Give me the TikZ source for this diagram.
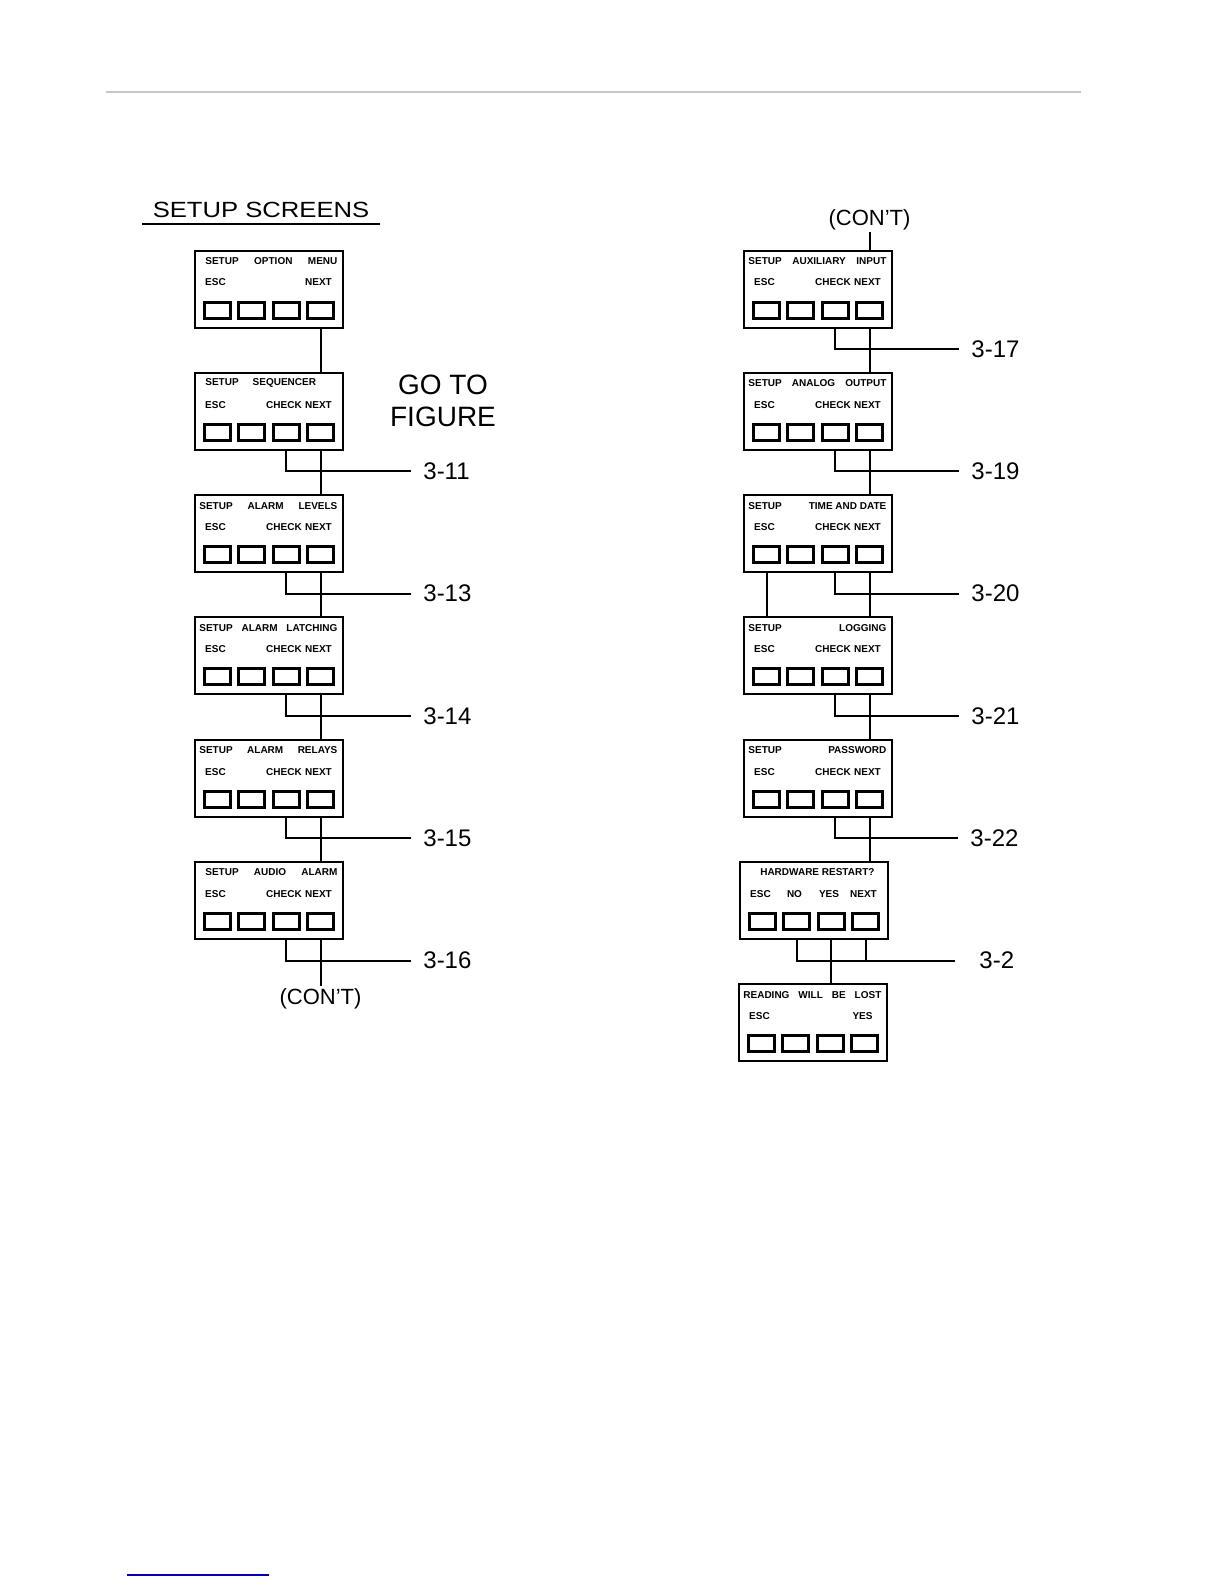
\documentclass[tikz,border=0pt]{standalone}
\usepackage{fontspec}
\setmainfont{Liberation Sans}
\usepackage{graphicx}
\usetikzlibrary{calc}

\tikzset{
    screen/.style={draw, line width=1pt, anchor=north west, minimum width=74pt,
                   minimum height=38.5pt, inner sep=0pt},
    key/.style={draw, line width=1.5pt, minimum width=13pt, minimum height=8pt, inner sep=0pt},
    lcdtext/.style={font=\fontsize{5}{6}\selectfont\bfseries, inner sep=0pt},
    conn/.style={line width=1pt},
    figref/.style={font=\fontsize{12}{14}\selectfont, anchor=west, inner xsep=6pt, inner ysep=0pt},
    cont/.style={font=\fontsize{11}{13}\selectfont, inner sep=1pt},
}

% one display screen: name, top-left corner, top line, four key labels
\newcommand{\lcdscreen}[7]{%
    \node[screen] (#1) at (#2) {};
    \node[lcdtext, anchor=west] (#1-top) at ($(#1.north west)+(5,11.5)$) {\hbox to 69pt{#3}};
    \foreach \dx [count=\i] in {23.5,57.5,92,126.5}
        \node[key] (#1-\i) at ($(#1.north west)+(\dx,60.5)$) {};
    \node[lcdtext] (#1-t1) at ($(#1-1)+(-2,-27.5)$) {#4};
    \node[lcdtext] (#1-t2) at ($(#1-2)+(-2,-27.5)$) {#5};
    \node[lcdtext] (#1-t3) at ($(#1-3)+(-2,-27.5)$) {#6};
    \node[lcdtext] (#1-t4) at ($(#1-4)+(-2,-27.5)$) {#7};
}

\begin{document}
\begin{tikzpicture}[x=0.5pt, y=-0.5pt]
    \useasboundingbox (0,0) rectangle (1224,1584);
    \draw[gray!45, line width=0.6pt] (106,92) -- (1081,92);
    \draw[blue!70!black, line width=0.6pt] (127,1575) -- (269,1575);

    % title
    \node[font=\fontsize{11}{13}\selectfont, anchor=south, inner xsep=5pt, inner ysep=3pt]
        (title) at (261,224) {\scalebox{1.165}[1]{SETUP SCREENS}};
    \draw[line width=1pt] (title.south west) -- (title.south east);
    \node[font=\fontsize{14}{16}\selectfont, align=center, inner sep=0pt] (goto) at (443,401) {GO TO\\FIGURE};

    % left column
    \lcdscreen{s1}{194,249.5}{\hspace{3pt}SETUP\hfill OPTION\hfill MENU}{ESC}{}{}{NEXT}
    \lcdscreen{s2}{194,371.8}{\hspace{3pt}SETUP\hspace{7pt}SEQUENCER\hfill}{ESC}{}{CHECK}{NEXT}
    \lcdscreen{s3}{194,494.1}{SETUP\hfill ALARM\hfill LEVELS}{ESC}{}{CHECK}{NEXT}
    \lcdscreen{s4}{194,616.4}{SETUP\hfill ALARM\hfill LATCHING}{ESC}{}{CHECK}{NEXT}
    \lcdscreen{s5}{194,738.7}{SETUP\hfill ALARM\hfill RELAYS}{ESC}{}{CHECK}{NEXT}
    \lcdscreen{s6}{194,861}{\hspace{3pt}SETUP\hfill AUDIO\hfill ALARM}{ESC}{}{CHECK}{NEXT}

    \node[figref] (f311) at (411,471.3) {3-11};
    \node[figref] (f313) at (411,593.6) {3-13};
    \node[figref] (f314) at (411,715.9) {3-14};
    \node[figref] (f315) at (411,838.2) {3-15};
    \node[figref] (f316) at (411,960.5) {3-16};
    \node[cont, anchor=north] (cont1) at (320.5,986) {(CON'T)};

    \draw[conn] (s1.south -| s1-4) -- (s2.north -| s1-4);
    \draw[conn] (s2.south -| s2-3) |- (f311.west);
    \draw[conn] (s2.south -| s2-4) -- (s3.north -| s2-4);
    \draw[conn] (s3.south -| s3-3) |- (f313.west);
    \draw[conn] (s3.south -| s3-4) -- (s4.north -| s3-4);
    \draw[conn] (s4.south -| s4-3) |- (f314.west);
    \draw[conn] (s4.south -| s4-4) -- (s5.north -| s4-4);
    \draw[conn] (s5.south -| s5-3) |- (f315.west);
    \draw[conn] (s5.south -| s5-4) -- (s6.north -| s5-4);
    \draw[conn] (s6.south -| s6-3) |- (f316.west);
    \draw[conn] (s6.south -| s6-4) -- (cont1.north -| s6-4);

    % right column
    \lcdscreen{r1}{743,249.5}{SETUP\hfill AUXILIARY\hfill INPUT}{ESC}{}{CHECK}{NEXT}
    \lcdscreen{r2}{743,371.8}{SETUP\hfill ANALOG\hfill OUTPUT}{ESC}{}{CHECK}{NEXT}
    \lcdscreen{r3}{743,494.1}{SETUP\hfill TIME AND DATE}{ESC}{}{CHECK}{NEXT}
    \lcdscreen{r4}{743,616.4}{SETUP\hfill LOGGING}{ESC}{}{CHECK}{NEXT}
    \lcdscreen{r5}{743,738.7}{SETUP\hfill PASSWORD}{ESC}{}{CHECK}{NEXT}
    \lcdscreen{hw}{739,861}{\hfill\hspace{4pt}HARDWARE RESTART?\hfill}{ESC}{NO}{YES}{NEXT}
    \lcdscreen{rd}{738,983.3}{READING\hfill WILL\hfill BE\hfill LOST}{ESC}{}{}{YES}

    \node[cont, anchor=south] (cont2) at (869.5,232) {(CON'T)};
    \node[figref] (f317) at (959,349) {3-17};
    \node[figref] (f319) at (959,471.3) {3-19};
    \node[figref] (f320) at (959,593.6) {3-20};
    \node[figref] (f321) at (959,715.9) {3-21};
    \node[figref] (f322) at (958,838.2) {3-22};
    \node[figref, inner xsep=12pt] (f32) at (955,960.5) {3-2};

    \draw[conn] (cont2.south -| r1-4) -- (r1.north -| r1-4);
    \draw[conn] (r1.south -| r1-3) |- (f317.west);
    \draw[conn] (r1.south -| r1-4) -- (r2.north -| r1-4);
    \draw[conn] (r2.south -| r2-3) |- (f319.west);
    \draw[conn] (r2.south -| r2-4) -- (r3.north -| r2-4);
    \draw[conn] (r3.south -| r3-3) |- (f320.west);
    \draw[conn] (r3.south -| r3-4) -- (r4.north -| r3-4);
    \draw[conn] (r3.south -| r3-1) -- (r4.north -| r3-1);
    \draw[conn] (r4.south -| r4-3) |- (f321.west);
    \draw[conn] (r4.south -| r4-4) -- (r5.north -| r4-4);
    \draw[conn] (r5.south -| r5-3) |- (f322.west);
    \draw[conn] (r5.south -| r5-4) -- (hw.north -| r5-4);
    \draw[conn] (hw.south -| hw-2) |- (f32.west);
    \draw[conn] (hw.south -| hw-4) -- (f32.west -| hw-4);
    \draw[conn] (hw.south -| hw-3) -- (rd.north -| hw-3);
\end{tikzpicture}
\end{document}
